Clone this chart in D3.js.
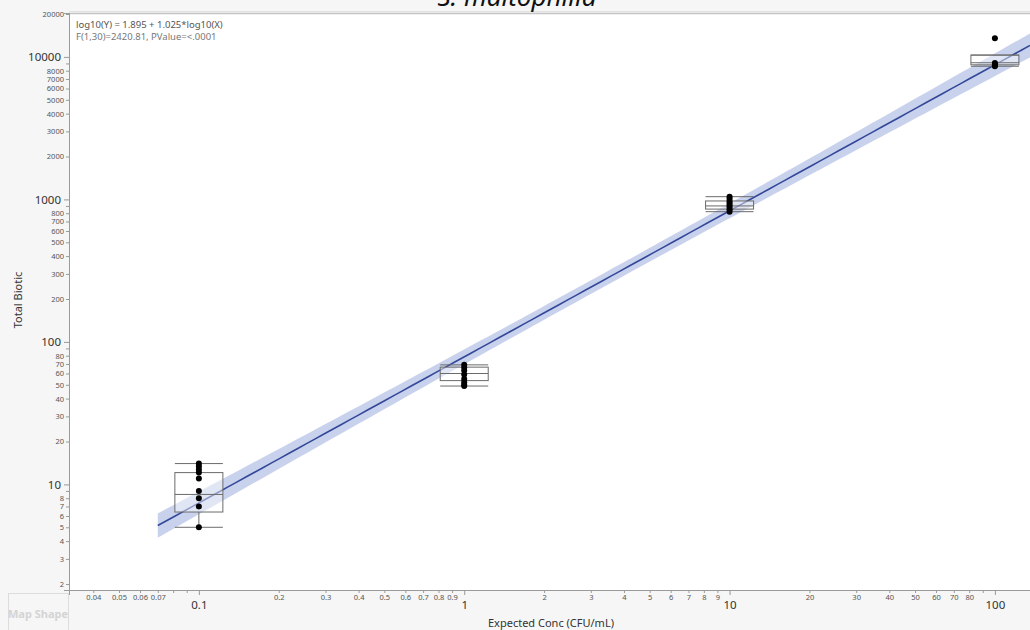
<!DOCTYPE html>
<html>
<head>
<meta charset="utf-8">
<script src="https://cdn.jsdelivr.net/npm/d3@7"></script>
<style>
  html, body { margin: 0; padding: 0; background: #f6f6f6; }
  svg { display: block; font-family: "Noto Sans", "Open Sans", sans-serif; }
</style>
</head>
<body>
<svg id="chart" width="1030" height="630"></svg>
<script>
// ---- data ----
const concLevels = [0.1, 1, 10, 100];
const observed = [
  [5, 7, 8, 9, 11, 12.1, 12.7, 13.4, 14],
  [49, 50, 52, 55, 59, 63, 66, 69],
  [820, 850, 880, 910, 940, 970, 1010, 1045],
  [8600, 8750, 8900, 9050, 13500]
];
const boxLow    = [5, 49, 820, 8600];
const boxQ1     = [6.4, 53.5, 855, 8800];
const boxMedian = [8.5, 60, 900, 9100];
const boxQ3     = [12.1, 66.5, 975, 10300];
const boxHigh   = [14, 69, 1045, 10300];

// fit: log10(Y) = a + b*log10(X)
const fitIntercept = 1.895;
const fitSlope = 1.025;
const fitN = 32;
const fitMeanLogX = 0.5;
const fitSxx = 40;
const fitRmse = 0.132;
const fitTCrit = 2.042;
const fitStartX = 0.07;

const yMajorTicks = [10, 100, 1000, 10000];
const yMinorTicks = [2, 3, 4, 5, 6, 7, 8, 9, 20, 30, 40, 50, 60, 70, 80, 90,
                     200, 300, 400, 500, 600, 700, 800, 900,
                     2000, 3000, 4000, 5000, 6000, 7000, 8000, 9000, 20000];
const yUnlabeled = [9, 90, 900, 9000];
const xMajorTicks = [0.1, 1, 10, 100];
const xMinorTicks = [0.04, 0.05, 0.06, 0.07, 0.08, 0.09,
                     0.2, 0.3, 0.4, 0.5, 0.6, 0.7, 0.8, 0.9,
                     2, 3, 4, 5, 6, 7, 8, 9,
                     20, 30, 40, 50, 60, 70, 80, 90];
const xUnlabeled = [0.08, 0.09, 90];

const titleText = "S. maltophilia";
const xTitle = "Expected Conc (CFU/mL)";
const yTitle = "Total Biotic";
const fitLine1 = "log10(Y) = 1.895 + 1.025*log10(X)";
const fitLine2 = "F(1,30)=2420.81, PValue=<.0001";

// ---- layout ----
const svg = d3.select("#chart");
const plot = { left: 69, right: 1030, top: 13, bottom: 590 };

const x = d3.scaleLog().domain([0.0324, 135.6]).range([plot.left, plot.right]);
const y = d3.scaleLog().domain([1.815, 20330]).range([plot.bottom, plot.top]);

svg.append("defs").append("clipPath").attr("id", "plotClip")
  .append("rect")
  .attr("x", plot.left).attr("y", plot.top)
  .attr("width", plot.right - plot.left).attr("height", plot.bottom - plot.top);

// plot background
svg.append("rect")
  .attr("x", plot.left).attr("y", plot.top)
  .attr("width", plot.right - plot.left).attr("height", plot.bottom - plot.top)
  .attr("fill", "#ffffff");

// frame top edge
svg.append("line")
  .attr("x1", plot.left).attr("x2", plot.right)
  .attr("y1", plot.top - 1.5).attr("y2", plot.top - 1.5)
  .attr("stroke", "#e2e2e2").attr("stroke-width", 1);
svg.append("line")
  .attr("x1", plot.left).attr("x2", plot.right)
  .attr("y1", plot.top + 0.5).attr("y2", plot.top + 0.5)
  .attr("stroke", "#c4c4c4").attr("stroke-width", 1.5);

// title (partly above the visible area)
svg.append("text")
  .attr("x", 517).attr("y", 6)
  .attr("text-anchor", "middle")
  .attr("font-size", 26).attr("font-style", "italic")
  .attr("fill", "#111")
  .text(titleText);

// ---- fit + confidence band ----
const g = svg.append("g").attr("clip-path", "url(#plotClip)");
const fitY = lx => fitIntercept + fitSlope * lx;
const halfWidth = lx => fitTCrit * fitRmse *
  Math.sqrt(1 / fitN + (lx - fitMeanLogX) ** 2 / fitSxx);

const lx0 = Math.log10(fitStartX), lx1 = Math.log10(x.domain()[1]);
const samples = d3.range(0, 101).map(i => lx0 + (lx1 - lx0) * i / 100);

g.append("path")
  .datum(samples)
  .attr("fill", "#c3cdea")
  .attr("fill-opacity", 0.9)
  .attr("d", d3.area()
    .x(lx => x(10 ** lx))
    .y0(lx => y(10 ** (fitY(lx) - halfWidth(lx))))
    .y1(lx => y(10 ** (fitY(lx) + halfWidth(lx)))));

// ---- box plots ----
const boxW = 48;
const boxes = svg.append("g").attr("fill", "none").attr("stroke", "#6b6b6b").attr("stroke-width", 1);
concLevels.forEach((c, i) => {
  const cx = x(c);
  boxes.append("rect")
    .attr("x", cx - boxW / 2).attr("y", y(boxQ3[i]))
    .attr("width", boxW).attr("height", Math.max(0.5, y(boxQ1[i]) - y(boxQ3[i])))
    .attr("fill", "#ffffff").attr("fill-opacity", 0.45);
  boxes.append("line")
    .attr("x1", cx - boxW / 2).attr("x2", cx + boxW / 2)
    .attr("y1", y(boxMedian[i])).attr("y2", y(boxMedian[i]));
  boxes.append("line").attr("x1", cx).attr("x2", cx)
    .attr("y1", y(boxQ3[i])).attr("y2", y(boxHigh[i]));
  boxes.append("line").attr("x1", cx).attr("x2", cx)
    .attr("y1", y(boxQ1[i])).attr("y2", y(boxLow[i]));
  [boxLow[i], boxHigh[i]].forEach(v => {
    boxes.append("line")
      .attr("x1", cx - boxW / 2).attr("x2", cx + boxW / 2)
      .attr("y1", y(v)).attr("y2", y(v));
  });
});

// fit line
g.append("path")
  .datum(samples)
  .attr("fill", "none")
  .attr("stroke", "#34489a")
  .attr("stroke-width", 1.6)
  .attr("d", d3.line().x(lx => x(10 ** lx)).y(lx => y(10 ** fitY(lx))));

// points
const pts = svg.append("g");
concLevels.forEach((c, i) => {
  pts.selectAll(null).data(observed[i]).enter().append("circle")
    .attr("cx", x(c)).attr("cy", d => y(d)).attr("r", 3)
    .attr("fill", "#000");
});

// ---- axes ----
const fmt = d => String(d);

const yMinor = svg.append("g").attr("transform", `translate(${plot.left},0)`)
  .call(d3.axisLeft(y).tickValues(yMinorTicks).tickSize(3).tickPadding(2)
    .tickFormat(d => yUnlabeled.includes(d) ? "" : fmt(d)));
yMinor.selectAll("text").attr("font-size", 7.5).attr("fill", "#555");

const yMajor = svg.append("g").attr("transform", `translate(${plot.left},0)`)
  .call(d3.axisLeft(y).tickValues(yMajorTicks).tickSize(5).tickPadding(3).tickFormat(fmt));
yMajor.selectAll("text").attr("font-size", 11.5).attr("fill", "#333");

const xMinor = svg.append("g").attr("transform", `translate(0,${plot.bottom})`)
  .call(d3.axisBottom(x).tickValues(xMinorTicks).tickSize(3).tickPadding(2)
    .tickFormat(d => xUnlabeled.includes(d) ? "" : fmt(d)));
xMinor.selectAll("text").attr("font-size", 7.5).attr("fill", "#555");

const xMajor = svg.append("g").attr("transform", `translate(0,${plot.bottom})`)
  .call(d3.axisBottom(x).tickValues(xMajorTicks).tickSize(5).tickPadding(6).tickFormat(fmt));
xMajor.selectAll("text").attr("font-size", 11.5).attr("fill", "#333");

svg.selectAll(".domain").attr("stroke", "#9a9a9a");
svg.selectAll(".tick line").attr("stroke", "#9a9a9a");
svg.selectAll(".tick text").attr("font-family", "'Noto Sans', 'Open Sans', sans-serif");

// axis titles
svg.append("text")
  .attr("transform", "translate(22,300) rotate(-90)")
  .attr("text-anchor", "middle")
  .attr("font-size", 11).attr("fill", "#333")
  .text(yTitle);

svg.append("text")
  .attr("x", 551).attr("y", 627)
  .attr("text-anchor", "middle")
  .attr("font-size", 11).attr("fill", "#333")
  .text(xTitle);

// fit summary
svg.append("text").attr("x", 76).attr("y", 28)
  .attr("font-size", 9.5).attr("fill", "#555").text(fitLine1);
svg.append("text").attr("x", 76).attr("y", 40)
  .attr("font-size", 9.5).attr("fill", "#777").text(fitLine2);

// lower-left panel
svg.append("rect")
  .attr("x", 8.5).attr("y", 593.5).attr("width", 60).attr("height", 40)
  .attr("fill", "none").attr("stroke", "#dcdcdc");
svg.append("text").attr("x", 8).attr("y", 618)
  .attr("font-size", 11).attr("font-weight", "bold").attr("fill", "#d4d4d4")
  .text("Map Shape");
</script>
</body>
</html>
